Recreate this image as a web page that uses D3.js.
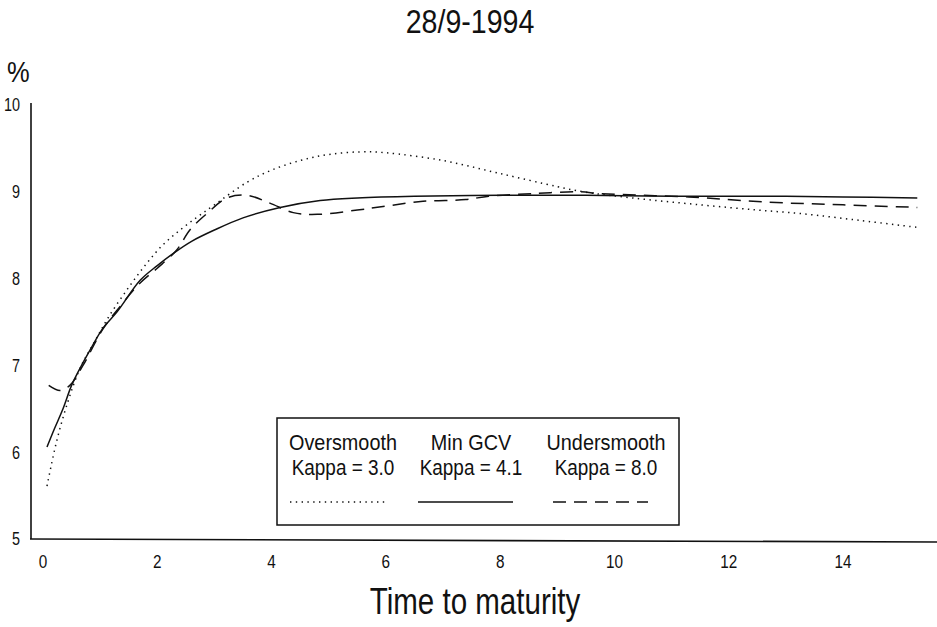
<!DOCTYPE html>
<html>
<head>
<meta charset="utf-8">
<script src="https://cdn.jsdelivr.net/npm/d3@7"></script>
<style>
  body { margin: 0; background: #fff; }
  svg text { font-family: "Liberation Sans Narrow", "Arial Narrow", "Liberation Sans", sans-serif; fill: #111; }
</style>
</head>
<body>
<div id="chart"></div>
<script>
var width = 937;
var height = 627;

// tick labels
var xTicks = [0, 2, 4, 6, 8, 10, 12, 14];
var yTicks = [5, 6, 7, 8, 9, 10];

// Oversmooth, Kappa = 3.0 (dotted)
var overT = [0.07, 0.24, 0.44, 0.65, 0.9, 1.15, 1.5, 1.82, 2.1, 2.4, 2.7, 2.98, 3.57, 4.0, 4.5, 5.0, 5.55, 6.0, 7.0, 8.0, 9.0, 9.45, 10.3, 11.5, 12.5, 13.25, 14.3, 15.3];
var overR = [5.61, 6.13, 6.59, 6.97, 7.27, 7.56, 7.9, 8.18, 8.39, 8.56, 8.71, 8.84, 9.11, 9.25, 9.36, 9.43, 9.46, 9.45, 9.36, 9.21, 9.06, 9.0, 8.93, 8.85, 8.79, 8.75, 8.67, 8.59];

// Min GCV, Kappa = 4.1 (solid)
var gcvT = [0.07, 0.2, 0.35, 0.5, 0.65, 0.8, 1.05, 1.3, 1.7, 2.0, 2.3, 2.6, 3.0, 3.5, 4.15, 4.85, 5.5, 6.5, 8, 9.5, 11, 12.5, 14, 15.3];
var gcvR = [6.06, 6.27, 6.5, 6.77, 6.97, 7.15, 7.43, 7.62, 7.98, 8.15, 8.3, 8.43, 8.56, 8.7, 8.82, 8.9, 8.93, 8.95, 8.96, 8.96, 8.95, 8.95, 8.94, 8.93];

// Undersmooth, Kappa = 8.0 (dashed)
var underT = [0.1, 0.3, 0.47, 0.7, 1.05, 1.35, 1.7, 2.0, 2.34, 2.57, 2.87, 3.22, 3.57, 3.97, 4.38, 4.8, 5.5, 5.95, 6.65, 7.4, 7.8, 8.6, 9.4, 9.75, 11.3, 12.7, 14, 15.3];
var underR = [6.77, 6.71, 6.77, 7.0, 7.42, 7.68, 7.95, 8.12, 8.33, 8.56, 8.75, 8.93, 8.96, 8.87, 8.76, 8.74, 8.79, 8.83, 8.89, 8.91, 8.95, 8.98, 9.0, 8.98, 8.94, 8.88, 8.85, 8.82];

var legendHeads = ["Oversmooth", "Min GCV", "Undersmooth"];
var legendKappas = ["Kappa = 3.0", "Kappa = 4.1", "Kappa = 8.0"];
var dashes = ["1.4,4.4", null, "13,8"];

function zip(ts, rs) {
    return ts.map(function(t, i) { return { t: t, r: rs[i] }; });
}
var series = [zip(overT, overR), zip(gcvT, gcvR), zip(underT, underR)];

// the original lettering is a condensed sans, squeeze the regular one
function squeeze(sel, k) {
    sel.each(function() {
        var w = this.getComputedTextLength();
        d3.select(this)
            .attr("textLength", w * k)
            .attr("lengthAdjust", "spacingAndGlyphs");
    });
}

var xScale = d3.scaleLinear().domain([0, 14]).range([43, 843]);
var yScale = d3.scaleLinear().domain([5, 10]).range([539, 105]);

var svg = d3.select("#chart")
    .append("svg")
    .attr("width", width)
    .attr("height", height);

// axes drawn as plain lines, labels without tick marks
svg.append("line")
    .attr("x1", 31).attr("x2", 31)
    .attr("y1", yScale(10) - 2).attr("y2", yScale(5))
    .attr("stroke", "#111").attr("stroke-width", 1.6);

svg.append("line")
    .attr("x1", 30).attr("x2", width)
    .attr("y1", yScale(5)).attr("y2", yScale(5) + 3)
    .attr("stroke", "#111").attr("stroke-width", 1.6);

svg.selectAll(".xlab")
    .data(xTicks)
    .enter()
    .append("text")
    .attr("class", "xlab")
    .attr("x", function(d) { return xScale(d); })
    .attr("y", 568)
    .attr("text-anchor", "middle")
    .style("font-size", "18px")
    .text(function(d) { return d; })
    .call(squeeze, 0.85);

svg.selectAll(".ylab")
    .data(yTicks)
    .enter()
    .append("text")
    .attr("class", "ylab")
    .attr("x", 20)
    .attr("y", function(d) { return yScale(d); })
    .attr("dy", "0.35em")
    .attr("text-anchor", "end")
    .style("font-size", "18px")
    .text(function(d) { return d; })
    .call(squeeze, 0.8);

// curves
var line = d3.line()
    .x(function(d) { return xScale(d.t); })
    .y(function(d) { return yScale(d.r); })
    .curve(d3.curveCatmullRom.alpha(0.5));

svg.selectAll(".curve")
    .data(series)
    .enter()
    .append("path")
    .attr("class", "curve")
    .attr("d", line)
    .attr("fill", "none")
    .attr("stroke", "#111")
    .attr("stroke-width", function(d, i) { return i == 0 ? 1.5 : 1.5; })
    .attr("stroke-dasharray", function(d, i) { return dashes[i]; });

// legend
var legend = svg.append("g");
legend.append("rect")
    .attr("x", 277).attr("y", 418)
    .attr("width", 402).attr("height", 107)
    .attr("fill", "#fff")
    .attr("stroke", "#111").attr("stroke-width", 1.5);

var colX = [343, 471, 606];
legend.selectAll(".lhead")
    .data(legendHeads)
    .enter()
    .append("text")
    .attr("x", function(d, i) { return colX[i]; })
    .attr("y", 450)
    .attr("text-anchor", "middle")
    .style("font-size", "22px")
    .text(function(d) { return d; })
    .call(squeeze, 0.9);

legend.selectAll(".lkappa")
    .data(legendKappas)
    .enter()
    .append("text")
    .attr("x", function(d, i) { return colX[i]; })
    .attr("y", 475)
    .attr("text-anchor", "middle")
    .style("font-size", "22px")
    .text(function(d) { return d; })
    .call(squeeze, 0.86);

legend.selectAll(".lline")
    .data(dashes)
    .enter()
    .append("line")
    .attr("x1", function(d, i) { return colX[i] - 53; })
    .attr("x2", function(d, i) { return colX[i] + 42; })
    .attr("y1", 502).attr("y2", 502)
    .attr("stroke", "#111")
    .attr("stroke-width", 1.4)
    .attr("stroke-dasharray", function(d) { return d; });

// titles
svg.append("text")
    .attr("x", 470)
    .attr("y", 33)
    .attr("text-anchor", "middle")
    .style("font-size", "34px")
    .text("28/9-1994")
    .call(squeeze, 0.84);

svg.append("text")
    .attr("x", 7)
    .attr("y", 82)
    .style("font-size", "30px")
    .text("%")
    .call(squeeze, 0.85);

svg.append("text")
    .attr("x", 475)
    .attr("y", 614)
    .attr("text-anchor", "middle")
    .style("font-size", "36px")
    .text("Time to maturity")
    .call(squeeze, 0.82);
</script>
</body>
</html>
